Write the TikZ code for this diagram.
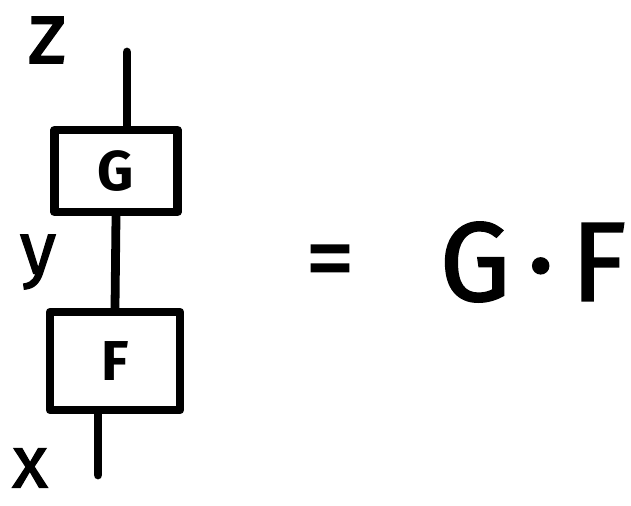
\documentclass[tikz,border=0pt]{standalone}
\usepackage{fontspec}
\setmainfont{Fira Sans}
\newfontfamily\handfont[FakeBold=1.6]{Fira Sans}
\usetikzlibrary{positioning}

\begin{document}
\begin{tikzpicture}[x=0.02cm, y=-0.02cm,
    ink/.style={line width=5pt, line cap=round, line join=round},
    morph/.style={rectangle, draw, ink, inner sep=0pt, font=\fontsize{32}{32}\selectfont\bfseries},
    obj/.style={inner sep=0pt, font=\fontsize{42}{42}\selectfont\handfont},
    big/.style={inner sep=0pt, font=\fontsize{64}{64}\selectfont\handfont},
]
\useasboundingbox (0,0) rectangle (631,505);

% boxes
\node[morph, minimum width=2.46cm, minimum height=1.64cm] (g) at (116,171) {G};
\node[morph, minimum width=2.6cm, minimum height=1.96cm] (f) at (115,361) {F};

% wires
\coordinate (zend) at (127,52);
\coordinate (xend) at (98,475);
\draw[ink] (zend) -- (g.north -| zend);
\draw[ink] (g.south) -- (f.north);
\draw[ink] (f.south -| xend) -- (xend);

% objects
\node[obj, font=\fontsize{50}{50}\selectfont\handfont] (z) at (47,40) {z};
\node[obj] (y) at (38,262) {y};
\node[obj] (x) at (30,468) {x};

% right hand side
\node[obj, font=\fontsize{56}{56}\selectfont\handfont] (eq) at (330,268) {=};
\node[big] (gf) at (533,262) {G\hspace{0.15em}·\hspace{0.15em}F};
\end{tikzpicture}
\end{document}
